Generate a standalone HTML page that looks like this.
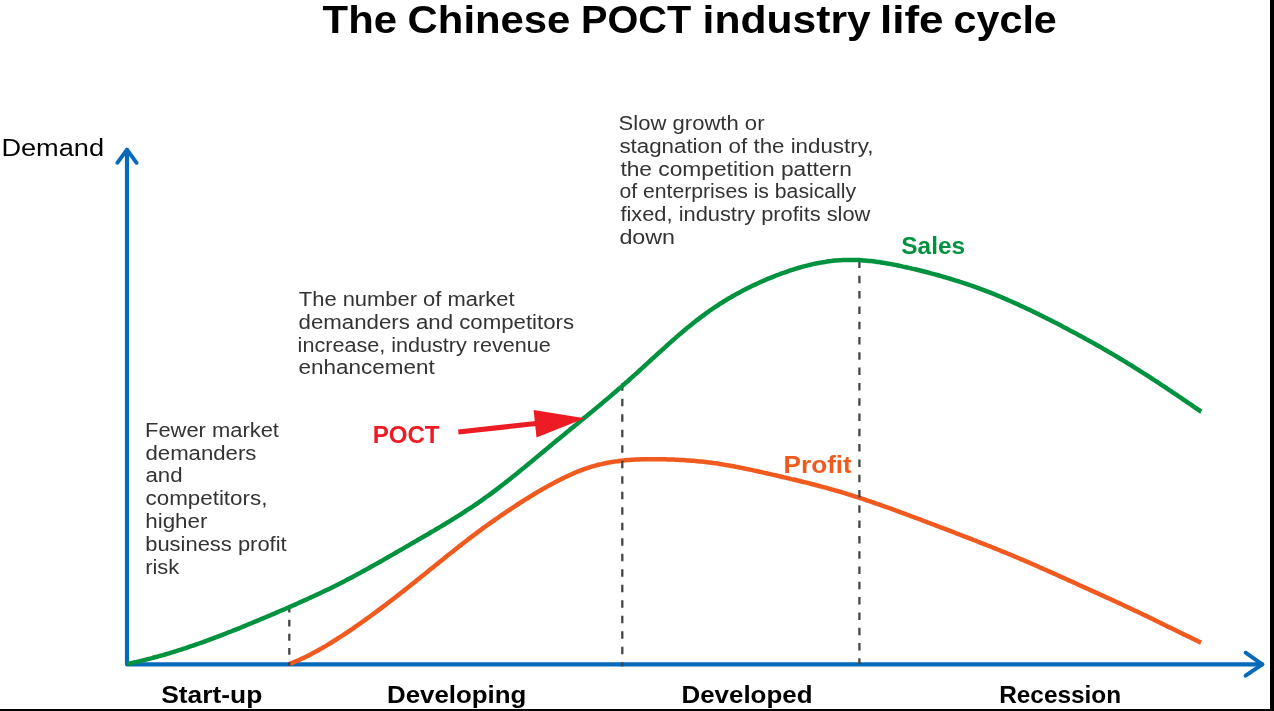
<!DOCTYPE html>
<html><head><meta charset="utf-8"><title>The Chinese POCT industry life cycle</title>
<style>html,body{margin:0;padding:0;background:#fff;overflow:hidden}svg{display:block}text{font-family:"Liberation Sans",sans-serif}</style>
</head><body>
<svg width="1274" height="711" viewBox="0 0 1274 711">
<rect width="1274" height="711" fill="#fff"/>
<path d="M127 150 L127 664.3 L1262.3 664.3" fill="none" stroke="#066ABA" stroke-width="4.2" stroke-linejoin="round" stroke-linecap="round"/>
<path d="M117.3 162.8 L127 149.6 L136.6 162.8" fill="none" stroke="#066ABA" stroke-width="3.9" stroke-linejoin="round" stroke-linecap="round"/>
<path d="M1245.6 652.7 L1262.3 664.3 L1245.6 675.7" fill="none" stroke="#066ABA" stroke-width="3.9" stroke-linejoin="round" stroke-linecap="round"/>
<path d="M289.5 664.0 L291.5 663.2 L293.5 662.4 L295.5 661.5 L297.5 660.7 L299.5 659.8 L301.5 658.8 L303.5 657.9 L305.5 656.9 L307.5 655.9 L309.5 654.9 L311.5 653.9 L313.5 652.8 L315.5 651.8 L317.5 650.7 L319.5 649.5 L321.5 648.4 L323.5 647.2 L325.5 646.1 L327.5 644.9 L329.5 643.7 L331.5 642.5 L333.5 641.2 L335.5 640.0 L337.5 638.7 L339.5 637.4 L341.5 636.1 L343.5 634.8 L345.5 633.5 L347.5 632.2 L349.5 630.8 L351.5 629.5 L353.5 628.1 L355.5 626.7 L357.5 625.3 L359.5 623.9 L361.5 622.5 L363.5 621.1 L365.5 619.6 L367.5 618.2 L369.5 616.8 L371.5 615.3 L373.5 613.8 L375.5 612.4 L377.5 610.9 L379.5 609.4 L381.5 607.9 L383.5 606.4 L385.5 604.9 L387.5 603.3 L389.5 601.8 L391.5 600.3 L393.5 598.7 L395.5 597.2 L397.5 595.6 L399.5 594.1 L401.5 592.5 L403.5 590.9 L405.5 589.4 L407.5 587.8 L409.5 586.2 L411.5 584.6 L413.5 583.0 L415.5 581.4 L417.5 579.8 L419.5 578.2 L421.5 576.6 L423.5 575.0 L425.5 573.4 L427.5 571.7 L429.5 570.1 L431.5 568.5 L433.5 566.9 L435.5 565.3 L437.5 563.7 L439.5 562.1 L441.5 560.5 L443.5 558.9 L445.5 557.2 L447.5 555.6 L449.5 554.0 L451.5 552.5 L453.5 550.9 L455.5 549.3 L457.5 547.7 L459.5 546.1 L461.5 544.6 L463.5 543.0 L465.5 541.5 L467.5 539.9 L469.5 538.4 L471.5 536.9 L473.5 535.4 L475.5 533.9 L477.5 532.4 L479.5 530.9 L481.5 529.4 L483.5 527.9 L485.5 526.5 L487.5 525.0 L489.5 523.6 L491.5 522.2 L493.5 520.8 L495.5 519.4 L497.5 518.0 L499.5 516.6 L501.5 515.2 L503.5 513.8 L505.5 512.5 L507.5 511.1 L509.5 509.8 L511.5 508.5 L513.5 507.1 L515.5 505.8 L517.5 504.5 L519.5 503.2 L521.5 502.0 L523.5 500.7 L525.5 499.4 L527.5 498.2 L529.5 497.0 L531.5 495.8 L533.5 494.5 L535.5 493.3 L537.5 492.1 L539.5 490.9 L541.5 489.8 L543.5 488.6 L545.5 487.5 L547.5 486.4 L549.5 485.3 L551.5 484.2 L553.5 483.1 L555.5 482.0 L557.5 481.0 L559.5 480.0 L561.5 479.0 L563.5 478.0 L565.5 477.0 L567.5 476.1 L569.5 475.2 L571.5 474.3 L573.5 473.4 L575.5 472.5 L577.5 471.7 L579.5 470.9 L581.5 470.2 L583.5 469.4 L585.5 468.7 L587.5 468.0 L589.5 467.4 L591.5 466.7 L593.5 466.1 L595.5 465.6 L597.5 465.0 L599.5 464.5 L601.5 464.1 L603.5 463.6 L605.5 463.2 L607.5 462.8 L609.5 462.4 L611.5 462.1 L613.5 461.8 L615.5 461.4 L617.5 461.2 L619.5 460.9 L621.5 460.7 L623.5 460.5 L625.5 460.3 L627.5 460.1 L629.5 459.9 L631.5 459.8 L633.5 459.7 L635.5 459.6 L637.5 459.5 L639.5 459.4 L641.5 459.3 L643.5 459.3 L645.5 459.2 L647.5 459.2 L649.5 459.2 L651.5 459.2 L653.5 459.2 L655.5 459.2 L657.5 459.2 L659.5 459.2 L661.5 459.2 L663.5 459.3 L665.5 459.3 L667.5 459.4 L669.5 459.4 L671.5 459.5 L673.5 459.6 L675.5 459.7 L677.5 459.8 L679.5 459.9 L681.5 460.0 L683.5 460.1 L685.5 460.2 L687.5 460.4 L689.5 460.5 L691.5 460.7 L693.5 460.8 L695.5 461.0 L697.5 461.2 L699.5 461.4 L701.5 461.6 L703.5 461.8 L705.5 462.0 L707.5 462.3 L709.5 462.5 L711.5 462.8 L713.5 463.1 L715.5 463.3 L717.5 463.6 L719.5 463.9 L721.5 464.2 L723.5 464.6 L725.5 464.9 L727.5 465.2 L729.5 465.6 L731.5 465.9 L733.5 466.3 L735.5 466.7 L737.5 467.1 L739.5 467.5 L741.5 467.9 L743.5 468.3 L745.5 468.7 L747.5 469.1 L749.5 469.5 L751.5 469.9 L753.5 470.4 L755.5 470.8 L757.5 471.2 L759.5 471.7 L761.5 472.1 L763.5 472.6 L765.5 473.0 L767.5 473.5 L769.5 473.9 L771.5 474.4 L773.5 474.9 L775.5 475.3 L777.5 475.8 L779.5 476.2 L781.5 476.7 L783.5 477.2 L785.5 477.6 L787.5 478.1 L789.5 478.6 L791.5 479.1 L793.5 479.5 L795.5 480.0 L797.5 480.5 L799.5 481.0 L801.5 481.5 L803.5 482.0 L805.5 482.4 L807.5 482.9 L809.5 483.4 L811.5 484.0 L813.5 484.5 L815.5 485.0 L817.5 485.5 L819.5 486.0 L821.5 486.6 L823.5 487.1 L825.5 487.6 L827.5 488.2 L829.5 488.8 L831.5 489.3 L833.5 489.9 L835.5 490.5 L837.5 491.0 L839.5 491.6 L841.5 492.2 L843.5 492.8 L845.5 493.4 L847.5 494.1 L849.5 494.7 L851.5 495.3 L853.5 495.9 L855.5 496.6 L857.5 497.2 L859.5 497.9 L861.5 498.5 L863.5 499.2 L865.5 499.9 L867.5 500.6 L869.5 501.2 L871.5 501.9 L873.5 502.6 L875.5 503.3 L877.5 504.0 L879.5 504.7 L881.5 505.4 L883.5 506.1 L885.5 506.8 L887.5 507.5 L889.5 508.2 L891.5 508.9 L893.5 509.7 L895.5 510.4 L897.5 511.1 L899.5 511.8 L901.5 512.6 L903.5 513.3 L905.5 514.0 L907.5 514.8 L909.5 515.5 L911.5 516.3 L913.5 517.0 L915.5 517.8 L917.5 518.5 L919.5 519.2 L921.5 520.0 L923.5 520.8 L925.5 521.5 L927.5 522.3 L929.5 523.0 L931.5 523.8 L933.5 524.5 L935.5 525.3 L937.5 526.1 L939.5 526.8 L941.5 527.6 L943.5 528.4 L945.5 529.1 L947.5 529.9 L949.5 530.7 L951.5 531.4 L953.5 532.2 L955.5 533.0 L957.5 533.8 L959.5 534.5 L961.5 535.3 L963.5 536.1 L965.5 536.8 L967.5 537.6 L969.5 538.4 L971.5 539.2 L973.5 540.0 L975.5 540.7 L977.5 541.5 L979.5 542.3 L981.5 543.1 L983.5 543.9 L985.5 544.7 L987.5 545.5 L989.5 546.2 L991.5 547.0 L993.5 547.8 L995.5 548.6 L997.5 549.5 L999.5 550.2 L1001.5 551.1 L1003.5 551.9 L1005.5 552.7 L1007.5 553.5 L1009.5 554.3 L1011.5 555.2 L1013.5 556.0 L1015.5 556.8 L1017.5 557.7 L1019.5 558.5 L1021.5 559.4 L1023.5 560.2 L1025.5 561.1 L1027.5 561.9 L1029.5 562.8 L1031.5 563.7 L1033.5 564.5 L1035.5 565.4 L1037.5 566.3 L1039.5 567.2 L1041.5 568.1 L1043.5 569.0 L1045.5 569.8 L1047.5 570.7 L1049.5 571.6 L1051.5 572.5 L1053.5 573.4 L1055.5 574.3 L1057.5 575.2 L1059.5 576.1 L1061.5 577.0 L1063.5 577.9 L1065.5 578.8 L1067.5 579.7 L1069.5 580.6 L1071.5 581.5 L1073.5 582.4 L1075.5 583.3 L1077.5 584.2 L1079.5 585.2 L1081.5 586.1 L1083.5 587.0 L1085.5 587.9 L1087.5 588.8 L1089.5 589.7 L1091.5 590.6 L1093.5 591.5 L1095.5 592.4 L1097.5 593.3 L1099.5 594.2 L1101.5 595.1 L1103.5 596.0 L1105.5 597.0 L1107.5 597.9 L1109.5 598.8 L1111.5 599.7 L1113.5 600.6 L1115.5 601.5 L1117.5 602.5 L1119.5 603.4 L1121.5 604.3 L1123.5 605.2 L1125.5 606.2 L1127.5 607.1 L1129.5 608.0 L1131.5 609.0 L1133.5 609.9 L1135.5 610.9 L1137.5 611.8 L1139.5 612.8 L1141.5 613.7 L1143.5 614.7 L1145.5 615.6 L1147.5 616.6 L1149.5 617.6 L1151.5 618.5 L1153.5 619.5 L1155.5 620.5 L1157.5 621.5 L1159.5 622.5 L1161.5 623.4 L1163.5 624.4 L1165.5 625.4 L1167.5 626.4 L1169.5 627.4 L1171.5 628.3 L1173.5 629.3 L1175.5 630.3 L1177.5 631.3 L1179.5 632.2 L1181.5 633.2 L1183.5 634.2 L1185.5 635.2 L1187.5 636.1 L1189.5 637.1 L1191.5 638.1 L1193.5 639.0 L1195.5 640.0 L1197.5 640.9 L1199.5 641.9 L1201.0 642.6" fill="none" stroke="#F05A1E" stroke-width="4.5" stroke-linejoin="round"/>
<line x1="289.3" y1="605.6" x2="289.3" y2="666.0" stroke="#454545" stroke-width="2.3" stroke-dasharray="6.9 7.2"/>
<line x1="622.3" y1="383.2" x2="622.3" y2="666.5" stroke="#454545" stroke-width="2.3" stroke-dasharray="7.6 7.9"/>
<line x1="859.4" y1="260.5" x2="859.4" y2="664.0" stroke="#454545" stroke-width="2.3" stroke-dasharray="7.5 7.8"/>
<path d="M127.0 664.1 L129.0 663.7 L131.0 663.2 L133.0 662.8 L135.0 662.3 L137.0 661.9 L139.0 661.4 L141.0 660.9 L143.0 660.4 L145.0 659.9 L147.0 659.4 L149.0 658.9 L151.0 658.4 L153.0 657.8 L155.0 657.3 L157.0 656.8 L159.0 656.2 L161.0 655.6 L163.0 655.1 L165.0 654.5 L167.0 653.9 L169.0 653.3 L171.0 652.7 L173.0 652.1 L175.0 651.5 L177.0 650.8 L179.0 650.2 L181.0 649.6 L183.0 648.9 L185.0 648.3 L187.0 647.6 L189.0 646.9 L191.0 646.2 L193.0 645.6 L195.0 644.9 L197.0 644.2 L199.0 643.5 L201.0 642.8 L203.0 642.1 L205.0 641.3 L207.0 640.6 L209.0 639.9 L211.0 639.1 L213.0 638.4 L215.0 637.6 L217.0 636.9 L219.0 636.1 L221.0 635.4 L223.0 634.6 L225.0 633.8 L227.0 633.0 L229.0 632.2 L231.0 631.5 L233.0 630.7 L235.0 629.9 L237.0 629.1 L239.0 628.3 L241.0 627.5 L243.0 626.6 L245.0 625.8 L247.0 625.0 L249.0 624.2 L251.0 623.4 L253.0 622.5 L255.0 621.7 L257.0 620.9 L259.0 620.0 L261.0 619.2 L263.0 618.4 L265.0 617.5 L267.0 616.7 L269.0 615.8 L271.0 615.0 L273.0 614.1 L275.0 613.3 L277.0 612.4 L279.0 611.5 L281.0 610.7 L283.0 609.8 L285.0 609.0 L287.0 608.1 L289.0 607.2 L291.0 606.4 L293.0 605.5 L295.0 604.6 L297.0 603.7 L299.0 602.8 L301.0 601.9 L303.0 601.0 L305.0 600.1 L307.0 599.2 L309.0 598.3 L311.0 597.4 L313.0 596.5 L315.0 595.5 L317.0 594.6 L319.0 593.7 L321.0 592.7 L323.0 591.8 L325.0 590.8 L327.0 589.9 L329.0 588.9 L331.0 587.9 L333.0 586.9 L335.0 585.9 L337.0 584.9 L339.0 583.9 L341.0 582.9 L343.0 581.9 L345.0 580.9 L347.0 579.8 L349.0 578.8 L351.0 577.7 L353.0 576.7 L355.0 575.6 L357.0 574.5 L359.0 573.4 L361.0 572.4 L363.0 571.3 L365.0 570.2 L367.0 569.1 L369.0 568.0 L371.0 566.8 L373.0 565.7 L375.0 564.6 L377.0 563.5 L379.0 562.4 L381.0 561.2 L383.0 560.1 L385.0 558.9 L387.0 557.8 L389.0 556.6 L391.0 555.5 L393.0 554.4 L395.0 553.2 L397.0 552.0 L399.0 550.9 L401.0 549.7 L403.0 548.6 L405.0 547.4 L407.0 546.3 L409.0 545.1 L411.0 543.9 L413.0 542.8 L415.0 541.6 L417.0 540.5 L419.0 539.3 L421.0 538.1 L423.0 537.0 L425.0 535.8 L427.0 534.7 L429.0 533.5 L431.0 532.3 L433.0 531.1 L435.0 530.0 L437.0 528.8 L439.0 527.6 L441.0 526.4 L443.0 525.2 L445.0 524.0 L447.0 522.8 L449.0 521.6 L451.0 520.4 L453.0 519.1 L455.0 517.9 L457.0 516.6 L459.0 515.4 L461.0 514.1 L463.0 512.8 L465.0 511.5 L467.0 510.2 L469.0 508.9 L471.0 507.6 L473.0 506.3 L475.0 504.9 L477.0 503.6 L479.0 502.2 L481.0 500.8 L483.0 499.4 L485.0 497.9 L487.0 496.5 L489.0 495.1 L491.0 493.6 L493.0 492.1 L495.0 490.6 L497.0 489.1 L499.0 487.6 L501.0 486.0 L503.0 484.5 L505.0 482.9 L507.0 481.4 L509.0 479.8 L511.0 478.2 L513.0 476.6 L515.0 475.0 L517.0 473.4 L519.0 471.8 L521.0 470.1 L523.0 468.5 L525.0 466.9 L527.0 465.2 L529.0 463.6 L531.0 461.9 L533.0 460.3 L535.0 458.6 L537.0 456.9 L539.0 455.3 L541.0 453.6 L543.0 452.0 L545.0 450.3 L547.0 448.6 L549.0 447.0 L551.0 445.3 L553.0 443.6 L555.0 442.0 L557.0 440.3 L559.0 438.7 L561.0 437.0 L563.0 435.4 L565.0 433.8 L567.0 432.1 L569.0 430.5 L571.0 428.8 L573.0 427.2 L575.0 425.6 L577.0 423.9 L579.0 422.3 L581.0 420.6 L583.0 419.0 L585.0 417.3 L587.0 415.7 L589.0 414.1 L591.0 412.4 L593.0 410.8 L595.0 409.1 L597.0 407.4 L599.0 405.8 L601.0 404.1 L603.0 402.4 L605.0 400.7 L607.0 399.1 L609.0 397.4 L611.0 395.7 L613.0 393.9 L615.0 392.2 L617.0 390.5 L619.0 388.8 L621.0 387.1 L623.0 385.3 L625.0 383.5 L627.0 381.8 L629.0 380.0 L631.0 378.2 L633.0 376.4 L635.0 374.6 L637.0 372.8 L639.0 371.0 L641.0 369.2 L643.0 367.3 L645.0 365.5 L647.0 363.7 L649.0 361.8 L651.0 360.0 L653.0 358.2 L655.0 356.4 L657.0 354.5 L659.0 352.7 L661.0 350.9 L663.0 349.1 L665.0 347.3 L667.0 345.5 L669.0 343.7 L671.0 341.9 L673.0 340.1 L675.0 338.4 L677.0 336.6 L679.0 334.9 L681.0 333.2 L683.0 331.5 L685.0 329.8 L687.0 328.1 L689.0 326.5 L691.0 324.9 L693.0 323.3 L695.0 321.7 L697.0 320.1 L699.0 318.6 L701.0 317.1 L703.0 315.6 L705.0 314.1 L707.0 312.7 L709.0 311.2 L711.0 309.9 L713.0 308.5 L715.0 307.1 L717.0 305.8 L719.0 304.5 L721.0 303.2 L723.0 302.0 L725.0 300.7 L727.0 299.5 L729.0 298.3 L731.0 297.2 L733.0 296.0 L735.0 294.9 L737.0 293.8 L739.0 292.7 L741.0 291.6 L743.0 290.5 L745.0 289.5 L747.0 288.5 L749.0 287.5 L751.0 286.5 L753.0 285.5 L755.0 284.6 L757.0 283.7 L759.0 282.8 L761.0 281.9 L763.0 281.0 L765.0 280.1 L767.0 279.2 L769.0 278.4 L771.0 277.6 L773.0 276.8 L775.0 276.0 L777.0 275.2 L779.0 274.5 L781.0 273.7 L783.0 273.0 L785.0 272.3 L787.0 271.6 L789.0 270.9 L791.0 270.2 L793.0 269.6 L795.0 268.9 L797.0 268.3 L799.0 267.8 L801.0 267.2 L803.0 266.6 L805.0 266.1 L807.0 265.6 L809.0 265.1 L811.0 264.6 L813.0 264.1 L815.0 263.7 L817.0 263.3 L819.0 262.9 L821.0 262.6 L823.0 262.2 L825.0 261.9 L827.0 261.6 L829.0 261.3 L831.0 261.1 L833.0 260.8 L835.0 260.6 L837.0 260.4 L839.0 260.3 L841.0 260.2 L843.0 260.1 L845.0 260.0 L847.0 259.9 L849.0 259.9 L851.0 259.9 L853.0 259.9 L855.0 260.0 L857.0 260.1 L859.0 260.1 L861.0 260.2 L863.0 260.4 L865.0 260.5 L867.0 260.7 L869.0 260.9 L871.0 261.1 L873.0 261.3 L875.0 261.6 L877.0 261.9 L879.0 262.1 L881.0 262.4 L883.0 262.7 L885.0 263.1 L887.0 263.4 L889.0 263.8 L891.0 264.1 L893.0 264.5 L895.0 264.9 L897.0 265.3 L899.0 265.7 L901.0 266.1 L903.0 266.6 L905.0 267.0 L907.0 267.5 L909.0 267.9 L911.0 268.4 L913.0 268.9 L915.0 269.3 L917.0 269.8 L919.0 270.3 L921.0 270.8 L923.0 271.3 L925.0 271.8 L927.0 272.3 L929.0 272.8 L931.0 273.4 L933.0 273.9 L935.0 274.4 L937.0 275.0 L939.0 275.5 L941.0 276.1 L943.0 276.7 L945.0 277.2 L947.0 277.8 L949.0 278.4 L951.0 279.0 L953.0 279.6 L955.0 280.3 L957.0 280.9 L959.0 281.5 L961.0 282.2 L963.0 282.8 L965.0 283.5 L967.0 284.1 L969.0 284.8 L971.0 285.5 L973.0 286.2 L975.0 286.9 L977.0 287.6 L979.0 288.4 L981.0 289.1 L983.0 289.8 L985.0 290.6 L987.0 291.4 L989.0 292.1 L991.0 292.9 L993.0 293.7 L995.0 294.5 L997.0 295.4 L999.0 296.2 L1001.0 297.0 L1003.0 297.9 L1005.0 298.7 L1007.0 299.6 L1009.0 300.5 L1011.0 301.3 L1013.0 302.2 L1015.0 303.1 L1017.0 304.0 L1019.0 304.9 L1021.0 305.9 L1023.0 306.8 L1025.0 307.7 L1027.0 308.7 L1029.0 309.6 L1031.0 310.6 L1033.0 311.6 L1035.0 312.5 L1037.0 313.5 L1039.0 314.5 L1041.0 315.5 L1043.0 316.5 L1045.0 317.5 L1047.0 318.5 L1049.0 319.5 L1051.0 320.5 L1053.0 321.5 L1055.0 322.6 L1057.0 323.6 L1059.0 324.6 L1061.0 325.6 L1063.0 326.7 L1065.0 327.7 L1067.0 328.8 L1069.0 329.9 L1071.0 330.9 L1073.0 332.0 L1075.0 333.1 L1077.0 334.1 L1079.0 335.2 L1081.0 336.3 L1083.0 337.4 L1085.0 338.5 L1087.0 339.6 L1089.0 340.7 L1091.0 341.8 L1093.0 342.9 L1095.0 344.0 L1097.0 345.2 L1099.0 346.3 L1101.0 347.4 L1103.0 348.6 L1105.0 349.7 L1107.0 350.9 L1109.0 352.1 L1111.0 353.2 L1113.0 354.4 L1115.0 355.6 L1117.0 356.8 L1119.0 358.0 L1121.0 359.2 L1123.0 360.4 L1125.0 361.6 L1127.0 362.8 L1129.0 364.1 L1131.0 365.3 L1133.0 366.5 L1135.0 367.8 L1137.0 369.1 L1139.0 370.3 L1141.0 371.6 L1143.0 372.9 L1145.0 374.1 L1147.0 375.4 L1149.0 376.7 L1151.0 378.0 L1153.0 379.3 L1155.0 380.6 L1157.0 381.9 L1159.0 383.2 L1161.0 384.6 L1163.0 385.9 L1165.0 387.2 L1167.0 388.5 L1169.0 389.9 L1171.0 391.2 L1173.0 392.6 L1175.0 393.9 L1177.0 395.2 L1179.0 396.6 L1181.0 397.9 L1183.0 399.3 L1185.0 400.7 L1187.0 402.0 L1189.0 403.4 L1191.0 404.7 L1193.0 406.1 L1195.0 407.5 L1197.0 408.8 L1199.0 410.2 L1201.0 411.6 L1201.2 411.7" fill="none" stroke="#00923F" stroke-width="4.5" stroke-linejoin="round"/>
<path d="M458.3 431.9 L536 423.6" fill="none" stroke="#ED1C24" stroke-width="5"/>
<path d="M533.6 410 L584.8 418.3 L536.5 437.4 Z" fill="#ED1C24"/>
<g font-family="Liberation Sans, sans-serif" style="will-change:transform">
<text id="t1" x="322.6" y="32.9" font-size="38.2" font-weight="bold" fill="#000" textLength="74.4" lengthAdjust="spacingAndGlyphs">The</text>
<text id="t2" x="407.6" y="32.9" font-size="38.2" font-weight="bold" fill="#000" textLength="162.8" lengthAdjust="spacingAndGlyphs">Chinese</text>
<text id="t3" x="581.0" y="32.9" font-size="38.2" font-weight="bold" fill="#000" textLength="110.2" lengthAdjust="spacingAndGlyphs">POCT</text>
<text id="t4" x="702.6" y="32.9" font-size="38.2" font-weight="bold" fill="#000" textLength="168.2" lengthAdjust="spacingAndGlyphs">industry</text>
<text id="t5" x="880.0" y="32.9" font-size="38.2" font-weight="bold" fill="#000" textLength="63.6" lengthAdjust="spacingAndGlyphs">life</text>
<text id="t6" x="953.6" y="32.9" font-size="38.2" font-weight="bold" fill="#000" textLength="103.2" lengthAdjust="spacingAndGlyphs">cycle</text>
<text id="demand" x="1.4" y="155.7" font-size="23.3" font-weight="normal" fill="#000" textLength="102.7" lengthAdjust="spacingAndGlyphs">Demand</text>
<text id="s1" x="618.6" y="129.7" font-size="20.0" font-weight="normal" fill="#333333" textLength="145.9" lengthAdjust="spacingAndGlyphs">Slow growth or</text>
<text id="s2" x="619.4" y="152.6" font-size="20.0" font-weight="normal" fill="#333333" textLength="254.0" lengthAdjust="spacingAndGlyphs">stagnation of the industry,</text>
<text id="s3" x="620.4" y="175.5" font-size="20.0" font-weight="normal" fill="#333333" textLength="231.4" lengthAdjust="spacingAndGlyphs">the competition pattern</text>
<text id="s4" x="619.4" y="198.4" font-size="20.0" font-weight="normal" fill="#333333" textLength="236.7" lengthAdjust="spacingAndGlyphs">of enterprises is basically</text>
<text id="s5" x="620.4" y="221.3" font-size="20.0" font-weight="normal" fill="#333333" textLength="250.0" lengthAdjust="spacingAndGlyphs">fixed, industry profits slow</text>
<text id="s6" x="619.4" y="244.2" font-size="20.0" font-weight="normal" fill="#333333" textLength="55.6" lengthAdjust="spacingAndGlyphs">down</text>
<text id="n1" x="298.8" y="306.0" font-size="20.0" font-weight="normal" fill="#333333" textLength="215.7" lengthAdjust="spacingAndGlyphs">The number of market</text>
<text id="n2" x="298.6" y="328.8" font-size="20.0" font-weight="normal" fill="#333333" textLength="275.5" lengthAdjust="spacingAndGlyphs">demanders and competitors</text>
<text id="n3" x="297.6" y="351.6" font-size="20.0" font-weight="normal" fill="#333333" textLength="253.2" lengthAdjust="spacingAndGlyphs">increase, industry revenue</text>
<text id="n4" x="298.6" y="374.4" font-size="20.0" font-weight="normal" fill="#333333" textLength="136.1" lengthAdjust="spacingAndGlyphs">enhancement</text>
<text id="f1" x="145.0" y="436.7" font-size="20.0" font-weight="normal" fill="#333333" textLength="133.9" lengthAdjust="spacingAndGlyphs">Fewer market</text>
<text id="f2" x="145.5" y="459.6" font-size="20.0" font-weight="normal" fill="#333333" textLength="110.9" lengthAdjust="spacingAndGlyphs">demanders</text>
<text id="f3" x="145.5" y="482.4" font-size="20.0" font-weight="normal" fill="#333333" textLength="37.1" lengthAdjust="spacingAndGlyphs">and</text>
<text id="f4" x="145.5" y="505.3" font-size="20.0" font-weight="normal" fill="#333333" textLength="121.9" lengthAdjust="spacingAndGlyphs">competitors,</text>
<text id="f5" x="145.2" y="528.2" font-size="20.0" font-weight="normal" fill="#333333" textLength="62.3" lengthAdjust="spacingAndGlyphs">higher</text>
<text id="f6" x="145.2" y="551.0" font-size="20.0" font-weight="normal" fill="#333333" textLength="141.5" lengthAdjust="spacingAndGlyphs">business profit</text>
<text id="f7" x="145.2" y="573.9" font-size="20.0" font-weight="normal" fill="#333333" textLength="34.1" lengthAdjust="spacingAndGlyphs">risk</text>
<text id="poct" x="372.7" y="443.1" font-size="23.3" font-weight="bold" fill="#ED1C24" textLength="66.9" lengthAdjust="spacingAndGlyphs">POCT</text>
<text id="sales" x="901.3" y="254.2" font-size="23.0" font-weight="bold" fill="#00923F" textLength="63.8" lengthAdjust="spacingAndGlyphs">Sales</text>
<text id="profit" x="783.6" y="472.6" font-size="23.0" font-weight="bold" fill="#F05A1E" textLength="68.2" lengthAdjust="spacingAndGlyphs">Profit</text>
<text id="startup" x="161.2" y="702.8" font-size="23.0" font-weight="bold" fill="#000" textLength="101.1" lengthAdjust="spacingAndGlyphs">Start-up</text>
<text id="developing" x="387.0" y="702.8" font-size="23.0" font-weight="bold" fill="#000" textLength="139.3" lengthAdjust="spacingAndGlyphs">Developing</text>
<text id="developed" x="681.5" y="702.8" font-size="23.0" font-weight="bold" fill="#000" textLength="131.0" lengthAdjust="spacingAndGlyphs">Developed</text>
<text id="recession" x="999.2" y="702.8" font-size="23.0" font-weight="bold" fill="#000" textLength="121.9" lengthAdjust="spacingAndGlyphs">Recession</text>
</g>
<rect x="1270" y="0" width="4" height="711" fill="#000"/>
<rect x="0" y="709" width="1274" height="2" fill="#000"/>
</svg>
</body></html>
